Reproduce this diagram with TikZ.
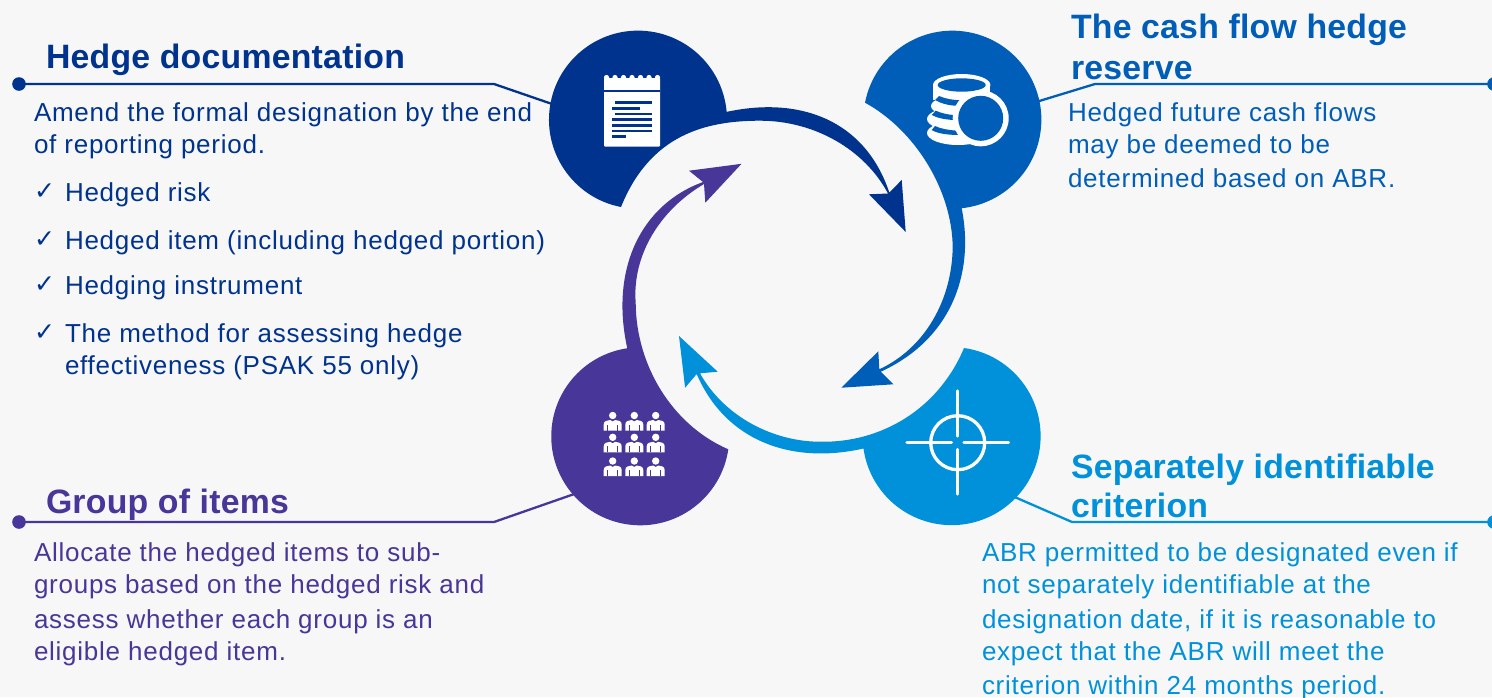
\documentclass[tikz,border=0pt]{standalone}
\usepackage{fontspec}
\setmainfont{Liberation Sans}[LetterSpace=2.9]
\newfontfamily\headfont{Liberation Sans}[LetterSpace=0.7]
\newfontfamily\chk{DejaVu Sans}
\definecolor{bgc}{HTML}{F7F7F7}
\definecolor{navyc}{HTML}{00338D}
\definecolor{bluec}{HTML}{005EB8}
\definecolor{skyc}{HTML}{0091DA}
\definecolor{purpc}{HTML}{483698}
\tikzset{
  x=0.5pt,y=-0.5pt,
  body/.style={anchor=base west,inner sep=0pt,outer sep=0pt,font=\fontsize{13}{15}\selectfont},
  head/.style={anchor=base west,inner sep=0pt,outer sep=0pt,font=\fontsize{16.9}{20}\headfont\bfseries},
  tick/.style={anchor=base west,inner sep=0pt,outer sep=0pt,font=\fontsize{12.5}{14}\chk},
  dotn/.style={circle,inner sep=0pt,minimum size=6.8pt},
  leader/.style={line width=1.15pt},
  pics/person/.style={code={
    \fill[white] (0,-5) circle[radius=3.7];
    \fill[white] (-9,10) -- (-9,4) .. controls (-9,0) and (-5,0) .. (-2.5,-0.5) -- (0,1) -- (2.5,-0.5) .. controls (5,0) and (9,0) .. (9,4) -- (9,10) -- cycle;
    \fill[#1] (-5.4,4) rectangle (-4.6,10);
    \fill[#1] (4.6,4) rectangle (5.4,10);
  }}
}
\begin{document}
\begin{tikzpicture}
\useasboundingbox (0,0) rectangle (1492,697);
\fill[bgc] (0,0) rectangle (1492,697);

% leaders
\node[dotn,fill=navyc] (dA) at (19,84) {};
\coordinate (eA) at (555,105);
\draw[leader,navyc] (dA.center) -- (494,84) -- (eA);
\node[dotn,fill=bluec] (dB) at (1494,84) {};
\coordinate (eB) at (1036,102);
\draw[leader,bluec] (eB) -- (1095,84) -- (dB.center);
\node[dotn,fill=purpc] (dC) at (19,522) {};
\coordinate (eC) at (580,492);
\draw[leader,purpc] (dC.center) -- (494,522) -- (eC);
\node[dotn,fill=skyc] (dD) at (1494,522) {};
\coordinate (eD) at (1010,495);
\draw[leader,skyc] (eD) -- (1072,522) -- (dD.center);

% badges with spiral arrows
\fill[navyc] (621,207) arc[start angle=101,end angle=355,radius=89]
  .. controls (800,96) and (865,120) .. (889.3,192.5)
  -- (901.7,180) -- (905.7,232) -- (869,194.3) -- (888,193.5)
  .. controls (865,150) and (815,120.7) .. (760,120.7)
  .. controls (705,120.7) and (650,135) .. (621,207)
  -- cycle;
\fill[bluec] (865,102.7) arc[start angle=191,end angle=444,radius=89]
  .. controls (975,275) and (950,340) .. (880.7,371.7)
  -- (893.3,384.3) -- (841.3,387.7) -- (878.3,351.3) -- (879.3,369.3)
  .. controls (925,348) and (952,300) .. (952.7,247)
  .. controls (952,190) and (915,130) .. (865,102.7)
  -- cycle;
\fill[skyc] (964,348) arc[start angle=278,end angle=532,radius=89]
  .. controls (790,465) and (725,440) .. (696.7,374)
  -- (685.1,387.7) -- (679,336) -- (717.7,371.7) -- (700,373.3)
  .. controls (725,418) and (775,441.7) .. (820,441.7)
  .. controls (880,443) and (938,410) .. (964,348)
  -- cycle;
\fill[purpc] (728.3,449.3) arc[start angle=8.4,end angle=261.6,radius=89]
  .. controls (610,270) and (640,205) .. (703,182)
  -- (689,170.7) -- (741.5,163.8) -- (705.3,202.7) -- (704,184)
  .. controls (660,210) and (632,255) .. (635.7,303)
  .. controls (636,365) and (672,425) .. (728.3,449.3)
  -- cycle;

% document icon
\fill[white,rounded corners=0.5pt] (604,78) rectangle (660,146.7);
\foreach \i in {0,...,6} \fill[white] (606.5+\i*8.5,77.5) circle[radius=2.6];
\fill[navyc] (604,89.5) rectangle (660,92);
\foreach \a/\b/\c in {615/651.7/102.3,612.3/640.3/108.3,615/651.7/114,612.3/651.7/119.7,612.3/651.7/125.3,612.3/651.7/131,612.3/626.3/136.7}
  \fill[navyc] (\a,\c-1.3) rectangle (\b,\c+1.3);

% coins icon
\fill[white] (961.7,85) ellipse[x radius=28.7,y radius=11];
\fill[white] (933,85) rectangle (990.4,100);
\fill[white] (961,106) ellipse[x radius=30,y radius=11];
\fill[white] (958,119) ellipse[x radius=31,y radius=12];
\fill[white] (958,133) ellipse[x radius=31,y radius=12];
\fill[bluec] (961.7,85) ellipse[x radius=24,y radius=6.7];
\fill[bluec] (939,96) .. controls (946,99) and (953,100) .. (960.7,100.3) -- (956,105.7) .. controls (948,105.5) and (940,103) .. (935,100) -- cycle;
\fill[bluec] (935.7,110.7) .. controls (941,113) and (947,114.5) .. (953.3,115) -- (953.3,120) .. controls (945,119.5) and (937,118) .. (931.7,115) -- cycle;
\fill[bluec] (935,126) .. controls (941,129) and (949,130) .. (956.7,130.7) -- (959.3,135) .. controls (950,135) and (938,134) .. (931.7,130) -- cycle;
\fill[white] (980.7,118.3) circle[radius=28];
\fill[bluec] (980.7,118.3) circle[radius=22.5];

% people icon
\foreach \cx in {612.7,634.3,655.7} {
  \pic at (\cx,420.5) {person=purpc};
  \pic at (\cx,442.3) {person=purpc};
  \pic at (\cx,466) {person=purpc};
}

% target icon
\draw[white,line width=1.65pt] (957.7,442.7) circle[radius=27];
\draw[white,line width=1.65pt,line cap=round] (957.7,391) -- (957.7,436) (957.7,449.5) -- (957.7,494);
\draw[white,line width=1.65pt,line cap=round] (907,442.7) -- (951.5,442.7) (964,442.7) -- (1008.5,442.7);

% headings
\node[head,navyc] (h1) at (46,68) {Hedge documentation};
\node[head,bluec] (h2a) at (1071,38) {The cash flow hedge};
\node[head,bluec] (h2b) at (1071,79) {reserve};
\node[head,purpc] (h3) at (46,513) {Group of items};
\node[head,skyc] (h4a) at (1071,478) {Separately identifiable};
\node[head,skyc] (h4b) at (1071,517) {criterion};

% navy text
\begin{scope}[every node/.append style={text=navyc}]
\node[body] (a1) at (34,121) {Amend the formal designation by the end};
\node[body] (a2) at (34,153) {of reporting period.};
\node[tick] (k1) at (34,199) {✓};
\node[body] (a3) at (65,201) {Hedged risk};
\node[tick] (k2) at (34,247) {✓};
\node[body] (a4) at (65,249) {Hedged item (including hedged portion)};
\node[tick] (k3) at (34,292) {✓};
\node[body] (a5) at (65,294) {Hedging instrument};
\node[tick] (k4) at (34,340) {✓};
\node[body] (a6) at (65,342) {The method for assessing hedge};
\node[body] (a7) at (65,374) {effectiveness (PSAK 55 only)};
\end{scope}
% blue text
\begin{scope}[every node/.append style={text=bluec}]
\node[body] (b1) at (1068,121) {Hedged future cash flows};
\node[body] (b2) at (1068,153) {may be deemed to be};
\node[body] (b3) at (1068,187) {determined based on ABR.};
\end{scope}
% purple text
\begin{scope}[every node/.append style={text=purpc}]
\node[body] (c1) at (34,561) {Allocate the hedged items to sub-};
\node[body] (c2) at (34,593) {groups based on the hedged risk and};
\node[body] (c3) at (34,628) {assess whether each group is an};
\node[body] (c4) at (34,660) {eligible hedged item.};
\end{scope}
% sky text
\begin{scope}[every node/.append style={text=skyc}]
\node[body] (d1) at (982,561) {ABR permitted to be designated even if};
\node[body] (d2) at (982,593) {not separately identifiable at the};
\node[body] (d3) at (982,628) {designation date, if it is reasonable to};
\node[body] (d4) at (982,660) {expect that the ABR will meet the};
\node[body] (d5) at (982,694) {criterion within 24 months period.};
\end{scope}
\end{tikzpicture}
\end{document}
